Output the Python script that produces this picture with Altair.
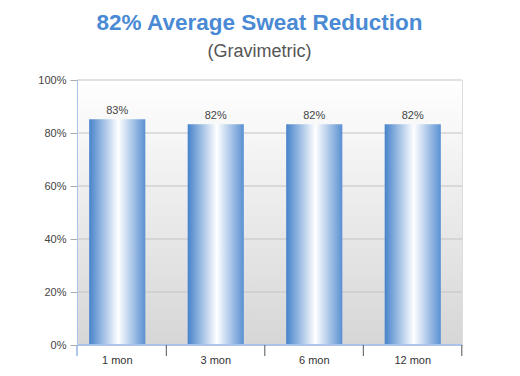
import altair as alt
import pandas as pd

categories = ["1 mon", "3 mon", "6 mon", "12 mon"]
values = [85.2, 83.3, 83.3, 83.3]
labels = ["83%", "82%", "82%", "82%"]
yticks = [0, 20, 40, 60, 80, 100]

df = pd.DataFrame({"cat": categories, "val": values, "lab": labels})
gdf = pd.DataFrame({"t": yticks})

FONT = "Liberation Sans"

bar_grad = alt.LinearGradient(
    gradient="linear", x1=0, x2=1, y1=0, y2=0,
    stops=[
        alt.GradientStop(offset=0, color="#4683cb"),
        alt.GradientStop(offset=0.52, color="#ffffff"),
        alt.GradientStop(offset=1, color="#5a90d2"),
    ],
)
bg_grad = alt.LinearGradient(
    gradient="linear", x1=0, x2=0, y1=0, y2=1,
    stops=[
        alt.GradientStop(offset=0, color="#ffffff"),
        alt.GradientStop(offset=1, color="#d6d6d6"),
    ],
)

xscale = alt.Scale(domain=categories, range=[-9, 385], paddingInner=0.43, paddingOuter=0.215)
yscale = alt.Scale(domain=[0, 100])

base = alt.Chart(df)

bg = base.mark_rect(fill=bg_grad).encode(
    x=alt.value(0), x2=alt.value(385), y=alt.value(0), y2=alt.value(265)
)

grid = alt.Chart(gdf).mark_rule(color="#c4c4c4").encode(
    y=alt.Y("t:Q", scale=yscale), x=alt.value(0), x2=alt.value(385)
)

bars = base.mark_bar(fill=bar_grad).encode(
    x=alt.X("cat:N", scale=xscale, sort=categories,
            axis=alt.Axis(title=None, labelAngle=0, ticks=False, domain=False,
                          labelFont=FONT, labelFontSize=11, labelColor="#333",
                          labelPadding=9)),
    y=alt.Y("val:Q", scale=yscale,
            axis=alt.Axis(title=None, values=yticks,
                          labelExpr="datum.value + '%'",
                          labelFont=FONT, labelFontSize=11, labelColor="#444",
                          tickColor="#aaaaaa", tickSize=7, labelPadding=4,
                          domainColor="#a9c3ea", grid=False, zindex=1)),
)

text = base.mark_text(dy=-8, font=FONT, fontSize=11, color="#444").encode(
    x=alt.X("cat:N", scale=xscale, sort=categories),
    y=alt.Y("val:Q", scale=yscale),
    text="lab:N",
)

xline = base.mark_rule(color="#a9c3ea").encode(
    x=alt.value(0), x2=alt.value(385), y=alt.value(265)
)

ticks = base.mark_rule(color="#555555", xOffset=21).encode(
    x=alt.X("cat:N", scale=xscale, sort=categories, bandPosition=1),
    y=alt.value(265), y2=alt.value(276),
)

yext = base.mark_rule(color="#a9c3ea").encode(
    x=alt.value(0), y=alt.value(265), y2=alt.value(276)
)

chart = alt.layer(bg, grid, bars, text, xline, ticks, yext).properties(
    width=385, height=265,
    autosize=alt.AutoSizeParams(type="none"),
    padding={"left": 69, "top": 72, "right": 50, "bottom": 30},
    title=alt.Title(
        text="82% Average Sweat Reduction",
        subtitle="(Gravimetric)",
        font=FONT, fontSize=22.5, fontWeight="bold", color="#4a8ad4",
        subtitleFont=FONT, subtitleFontSize=18, subtitleColor="#555555",
        subtitlePadding=9, anchor="middle", dx=-10, offset=13,
    ),
).configure_view(
    stroke=None
).configure(background="white")

chart.save("out.html", embed_options={"renderer": "svg", "actions": False})
